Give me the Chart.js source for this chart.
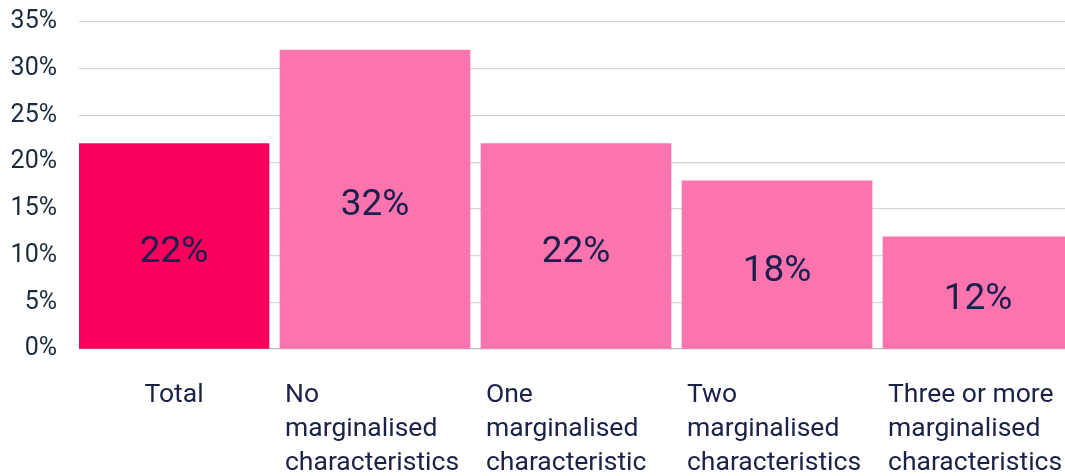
<!DOCTYPE html>
<html>
<head>
<meta charset="utf-8">
<script src="https://cdn.jsdelivr.net/npm/chart.js@4/dist/chart.umd.min.js"></script>
<style>
  html, body { margin: 0; padding: 0; background: #ffffff; overflow: hidden; }
  #wrap { position: relative; width: 1065px; height: 476px; }
</style>
</head>
<body>
<div id="wrap"><canvas id="chart"></canvas></div>
<script>
// Share of people in each group (percent)
const categories = [
  ['Total'],
  ['No', 'marginalised', 'characteristics'],
  ['One', 'marginalised', 'characteristic'],
  ['Two', 'marginalised', 'characteristics'],
  ['Three or more', 'marginalised', 'characteristics']
];
const values = [22, 32, 22, 18, 12];
const barColors = ['#fa005d', '#fc74ae', '#fc74ae', '#fc74ae', '#fc74ae'];
const yTicks = [0, 5, 10, 15, 20, 25, 30, 35];

const FONT = 'Roboto, "Noto Sans", sans-serif';

// Category names under the axis and the value written inside each bar
const labelPlugin = {
  id: 'barLabels',
  afterDatasetsDraw(chart) {
    const ctx = chart.ctx;
    const xs = chart.scales.x;
    const meta = chart.getDatasetMeta(0);
    ctx.save();
    // values inside bars
    ctx.font = '37px ' + FONT;
    ctx.fillStyle = '#1b1f4d';
    ctx.textAlign = 'center';
    ctx.textBaseline = 'middle';
    meta.data.forEach((bar, i) => {
      const y = (bar.y + bar.base) / 2 + 7;
      ctx.fillText(values[i] + '%', bar.x, y);
    });
    // category labels: wrapped blocks start near the bar's left edge,
    // single-line labels sit centred under the bar
    ctx.font = '26.5px ' + FONT;
    ctx.fillStyle = '#1b2147';
    ctx.textAlign = 'left';
    ctx.textBaseline = 'alphabetic';
    categories.forEach((lines, i) => {
      const cx = xs.getPixelForValue(i);
      const w = Math.max(...lines.map(l => ctx.measureText(l).width));
      const left = lines.length > 1 ? cx - 90 : cx - w / 2;
      lines.forEach((line, k) => {
        ctx.fillText(line, left, chart.chartArea.bottom + 53 + k * 34);
      });
    });
    ctx.restore();
  }
};

new Chart(document.getElementById('chart'), {
  type: 'bar',
  data: {
    datasets: [{
      data: values.map((v, i) => ({ x: i, y: v })),
      backgroundColor: barColors,
      borderWidth: 0,
      barThickness: 190
    }]
  },
  options: {
    responsive: true,
    maintainAspectRatio: false,
    animation: false,
    layout: { padding: { top: 22, right: 0, left: 0, bottom: 0 } },
    plugins: { legend: { display: false }, tooltip: { enabled: false } },
    scales: {
      x: {
        type: 'linear',
        offset: false,
        min: -0.4726,
        max: 4.4328,
        grid: { display: false, drawTicks: false, offset: false },
        border: { display: false },
        ticks: { display: false },
        afterFit(scale) { scale.height = 127; scale.paddingLeft = 0; scale.paddingRight = 0; }
      },
      y: {
        min: 0,
        max: 35,
        afterBuildTicks(scale) { scale.ticks = yTicks.map(v => ({ value: v })); },
        ticks: {
          callback: v => v + '%',
          color: '#1c2b3c',
          font: { family: FONT, size: 25 },
          padding: 22
        },
        grid: {
          color: ctx => ctx.tick && ctx.tick.value === 0 ? '#b9bdc5' : '#d3d6db',
          lineWidth: 1.2,
          drawTicks: false
        },
        border: { display: false },
        afterFit(scale) { scale.width = 79; scale.paddingTop = 0; scale.paddingBottom = 0; }
      }
    }
  },
  plugins: [labelPlugin]
});
</script>
</body>
</html>
